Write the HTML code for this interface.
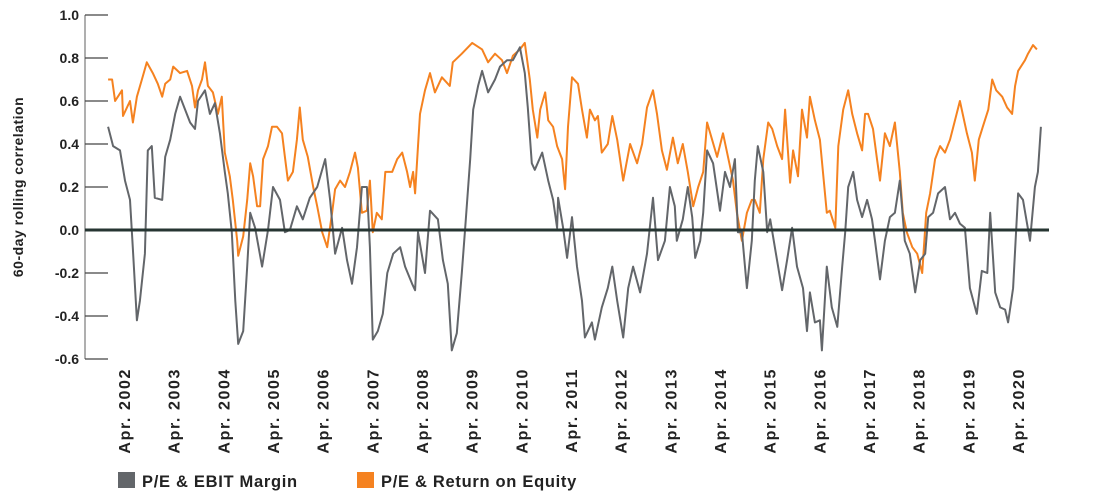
<!DOCTYPE html>
<html><head><meta charset="utf-8">
<style>
html,body{margin:0;padding:0;background:#fff;}
svg{display:block;font-family:"Liberation Sans",sans-serif;}
</style></head>
<body>
<svg id="chart" width="1100" height="500" viewBox="0 0 1100 500" xmlns="http://www.w3.org/2000/svg">
<g id="axes"></g>
<g id="series"></g>
<text transform="translate(23,187) rotate(-90)" text-anchor="middle" font-size="14" font-weight="bold" letter-spacing="0.5" fill="#222">60-day rolling correlation</text>
<g>
<g>
<rect x="118" y="472" width="17" height="16" fill="#63666a"/>
<text x="142" y="487" font-size="16.5" font-weight="bold" letter-spacing="0.7" fill="#222">P/E &amp; EBIT Margin</text>
</g>
<g>
<rect x="357" y="472" width="17" height="16" fill="#f58220"/>
<text x="381" y="487" font-size="16.5" font-weight="bold" letter-spacing="0.7" fill="#222">P/E &amp; Return on Equity</text>
</g>
</g>
</svg>
<script>
const yTicks = [1.0, 0.8, 0.6, 0.4, 0.2, 0.0, -0.2, -0.4, -0.6];
const yTickLabels = ["1.0","0.8","0.6","0.4","0.2","0.0","-0.2","-0.4","-0.6"];
const xTickYears = [2002,2003,2004,2005,2006,2007,2008,2009,2010,2011,2012,2013,2014,2015,2016,2017,2018,2019,2020];
const ebitDates = [2001.93,2002.03,2002.17,2002.27,2002.37,2002.43,2002.51,2002.57,2002.67,2002.73,2002.81,2002.87,2003.02,2003.08,2003.18,2003.28,2003.38,2003.48,2003.58,2003.68,2003.74,2003.88,2003.98,2004.08,2004.18,2004.28,2004.34,2004.42,2004.49,2004.55,2004.65,2004.73,2004.79,2004.89,2005.03,2005.15,2005.25,2005.39,2005.49,2005.59,2005.73,2005.85,2005.99,2006.14,2006.30,2006.40,2006.50,2006.64,2006.74,2006.84,2006.94,2007.04,2007.14,2007.20,2007.26,2007.36,2007.46,2007.55,2007.67,2007.81,2007.91,2008.05,2008.11,2008.17,2008.31,2008.41,2008.57,2008.67,2008.77,2008.85,2008.95,2009.05,2009.12,2009.22,2009.28,2009.38,2009.46,2009.58,2009.72,2009.82,2009.96,2010.08,2010.22,2010.32,2010.38,2010.46,2010.52,2010.67,2010.79,2010.89,2010.97,2010.99,2011.09,2011.17,2011.27,2011.37,2011.47,2011.53,2011.67,2011.73,2011.87,2011.99,2012.08,2012.18,2012.30,2012.40,2012.50,2012.64,2012.78,2012.90,2013.00,2013.14,2013.24,2013.34,2013.38,2013.50,2013.60,2013.69,2013.75,2013.85,2013.91,2013.99,2014.11,2014.25,2014.35,2014.45,2014.55,2014.61,2014.69,2014.79,2014.89,2014.95,2015.01,2015.12,2015.20,2015.26,2015.36,2015.50,2015.60,2015.70,2015.80,2015.92,2016.00,2016.06,2016.16,2016.26,2016.30,2016.40,2016.50,2016.61,2016.71,2016.77,2016.83,2016.93,2017.01,2017.11,2017.21,2017.31,2017.37,2017.47,2017.57,2017.67,2017.77,2017.87,2017.97,2018.07,2018.18,2018.28,2018.38,2018.44,2018.54,2018.64,2018.78,2018.88,2018.98,2019.08,2019.18,2019.28,2019.42,2019.52,2019.63,2019.69,2019.79,2019.89,2019.99,2020.05,2020.15,2020.25,2020.35,2020.49,2020.59,2020.65,2020.71];
const ebitValues = [0.48,0.39,0.37,0.23,0.14,-0.09,-0.42,-0.33,-0.11,0.37,0.39,0.15,0.14,0.34,0.42,0.54,0.62,0.56,0.50,0.47,0.60,0.65,0.54,0.59,0.45,0.27,0.17,-0.01,-0.33,-0.53,-0.47,-0.17,0.08,0.01,-0.17,0.0,0.20,0.14,-0.01,0.0,0.11,0.05,0.15,0.20,0.33,0.14,-0.11,0.01,-0.14,-0.25,-0.08,0.20,0.20,-0.08,-0.51,-0.47,-0.39,-0.20,-0.11,-0.08,-0.17,-0.25,-0.28,-0.01,-0.20,0.09,0.05,-0.14,-0.25,-0.56,-0.48,-0.20,0.01,0.33,0.56,0.67,0.74,0.64,0.70,0.76,0.79,0.79,0.85,0.73,0.57,0.31,0.28,0.36,0.23,0.14,0.01,0.15,0.01,-0.13,0.06,-0.17,-0.33,-0.50,-0.43,-0.51,-0.36,-0.27,-0.17,-0.33,-0.50,-0.27,-0.17,-0.29,-0.11,0.15,-0.14,-0.05,0.20,0.11,-0.05,0.05,0.20,0.06,-0.13,-0.05,0.08,0.37,0.31,0.09,0.27,0.20,0.33,-0.01,-0.01,-0.27,-0.05,0.23,0.39,0.27,-0.01,0.05,-0.09,-0.28,-0.14,0.01,-0.17,-0.27,-0.47,-0.29,-0.43,-0.42,-0.56,-0.17,-0.36,-0.45,-0.17,-0.01,0.20,0.27,0.14,0.06,0.14,0.05,-0.05,-0.23,-0.05,0.06,0.08,0.23,-0.05,-0.11,-0.29,-0.14,-0.11,0.06,0.08,0.17,0.20,0.05,0.08,0.03,0.01,-0.27,-0.39,-0.19,-0.20,0.08,-0.29,-0.36,-0.37,-0.43,-0.27,0.17,0.14,-0.05,0.20,0.27,0.48];
const roeDates = [2001.93,2002.01,2002.07,2002.21,2002.23,2002.37,2002.43,2002.51,2002.61,2002.71,2002.83,2002.93,2003.02,2003.08,2003.18,2003.24,2003.38,2003.52,2003.62,2003.68,2003.74,2003.82,2003.88,2003.94,2004.04,2004.14,2004.22,2004.28,2004.38,2004.44,2004.53,2004.55,2004.65,2004.73,2004.79,2004.85,2004.93,2004.99,2005.05,2005.15,2005.23,2005.33,2005.43,2005.49,2005.55,2005.65,2005.73,2005.79,2005.85,2005.95,2006.06,2006.14,2006.24,2006.34,2006.44,2006.50,2006.60,2006.70,2006.80,2006.90,2006.96,2007.04,2007.14,2007.20,2007.26,2007.34,2007.44,2007.51,2007.65,2007.75,2007.85,2007.95,2008.01,2008.07,2008.11,2008.17,2008.21,2008.31,2008.41,2008.51,2008.65,2008.81,2008.87,2009.05,2009.26,2009.46,2009.58,2009.72,2009.86,2009.96,2010.08,2010.22,2010.32,2010.42,2010.48,2010.57,2010.63,2010.73,2010.79,2010.89,2010.97,2011.07,2011.13,2011.19,2011.27,2011.39,2011.47,2011.57,2011.63,2011.73,2011.79,2011.87,2011.99,2012.08,2012.18,2012.30,2012.44,2012.58,2012.68,2012.78,2012.90,2012.98,2013.08,2013.18,2013.30,2013.40,2013.50,2013.60,2013.71,2013.81,2013.91,2013.99,2014.09,2014.19,2014.31,2014.41,2014.51,2014.59,2014.69,2014.79,2014.89,2014.95,2015.05,2015.12,2015.22,2015.30,2015.40,2015.50,2015.56,2015.66,2015.72,2015.82,2015.90,2016.00,2016.06,2016.16,2016.26,2016.40,2016.46,2016.57,2016.63,2016.73,2016.83,2016.91,2017.01,2017.11,2017.17,2017.23,2017.33,2017.41,2017.47,2017.57,2017.67,2017.77,2017.87,2017.93,2018.01,2018.12,2018.22,2018.32,2018.40,2018.48,2018.58,2018.68,2018.78,2018.88,2018.98,2019.08,2019.22,2019.32,2019.38,2019.46,2019.54,2019.65,2019.73,2019.81,2019.93,2020.03,2020.13,2020.19,2020.25,2020.39,2020.45,2020.55,2020.63,2020.71];
const roeValues = [0.70,0.70,0.60,0.65,0.53,0.60,0.50,0.62,0.70,0.78,0.73,0.68,0.62,0.68,0.70,0.76,0.73,0.74,0.67,0.57,0.65,0.70,0.78,0.67,0.64,0.54,0.62,0.36,0.25,0.14,-0.05,-0.12,-0.03,0.14,0.31,0.25,0.11,0.11,0.33,0.39,0.48,0.48,0.45,0.34,0.23,0.27,0.42,0.57,0.42,0.34,0.20,0.11,-0.01,-0.08,0.08,0.19,0.23,0.20,0.27,0.36,0.29,0.08,0.09,0.23,-0.01,0.08,0.05,0.27,0.27,0.33,0.36,0.27,0.20,0.27,0.17,0.39,0.54,0.65,0.73,0.64,0.71,0.67,0.78,0.82,0.87,0.84,0.78,0.82,0.79,0.73,0.81,0.84,0.87,0.70,0.56,0.43,0.56,0.64,0.51,0.48,0.39,0.33,0.19,0.48,0.71,0.68,0.56,0.43,0.56,0.51,0.53,0.36,0.40,0.53,0.42,0.23,0.40,0.31,0.40,0.57,0.65,0.54,0.37,0.28,0.43,0.31,0.40,0.27,0.11,0.20,0.27,0.50,0.42,0.34,0.45,0.34,0.23,0.08,-0.05,0.08,0.14,0.14,0.08,0.33,0.50,0.47,0.39,0.33,0.56,0.22,0.37,0.25,0.56,0.43,0.62,0.51,0.42,0.08,0.09,0.01,0.39,0.56,0.65,0.54,0.45,0.37,0.54,0.54,0.47,0.33,0.23,0.45,0.39,0.50,0.27,0.08,-0.01,-0.08,-0.11,-0.20,0.08,0.17,0.33,0.39,0.36,0.42,0.51,0.60,0.45,0.36,0.23,0.42,0.48,0.56,0.70,0.65,0.62,0.57,0.54,0.67,0.74,0.79,0.82,0.86,0.84];

const NS = "http://www.w3.org/2000/svg";
const X0 = 124, PX_PER_YEAR = 49.67, Y0 = 230, PX_PER_UNIT = 215;
function xScale(t){ return X0 + (t - 2002.25) * PX_PER_YEAR; }
function yScale(v){ return Y0 - v * PX_PER_UNIT; }
function mk(tag, attrs){ const e = document.createElementNS(NS, tag); for (const k in attrs) e.setAttribute(k, attrs[k]); return e; }

const axes = document.getElementById('axes');
const yAxis = mk('line', {x1:85, y1:yScale(1.0), x2:85, y2:yScale(-0.6), stroke:'#7a7a7a', 'stroke-width':1.2});


axes.appendChild(yAxis);
yTicks.forEach((v, i) => {
  const tk = mk('line', {x1:85, y1:yScale(v), x2:108, y2:yScale(v), stroke:'#444', 'stroke-width':1.2});
  
  
  axes.appendChild(tk);
  const lb = mk('text', {x:79, y:yScale(v)+5, 'text-anchor':'end', 'font-size':14, 'font-weight':'bold', fill:'#222'});
  
  
  lb.textContent = yTickLabels[i];
  axes.appendChild(lb);
});
xTickYears.forEach(yr => {
  const x = xScale(yr + 0.25);
  const lb = mk('text', {transform:`translate(${x+6},368) rotate(-90)`, 'text-anchor':'end', 'font-size':16, 'font-weight':'bold', 'letter-spacing':1.6, fill:'#222'});
  
  
  lb.textContent = 'Apr. ' + yr;
  axes.appendChild(lb);
});

const series = document.getElementById('series');
function drawLine(dates, vals, color, name){
  const d = dates.map((t, i) => (i ? 'L' : 'M') + xScale(t).toFixed(1) + ',' + yScale(vals[i]).toFixed(1)).join(' ');
  const p = mk('path', {d:d, fill:'none', stroke:color, 'stroke-width':2, 'stroke-linejoin':'round'});
  
  
  series.appendChild(p);
}
drawLine(roeDates, roeValues, '#f58220', 'roe-line');
drawLine(ebitDates, ebitValues, '#63666a', 'ebit-margin-line');
const zero = mk('line', {x1:85, y1:yScale(0), x2:1049, y2:yScale(0), stroke:'#263532', 'stroke-width':3});


series.appendChild(zero);
</script>
</body></html>
